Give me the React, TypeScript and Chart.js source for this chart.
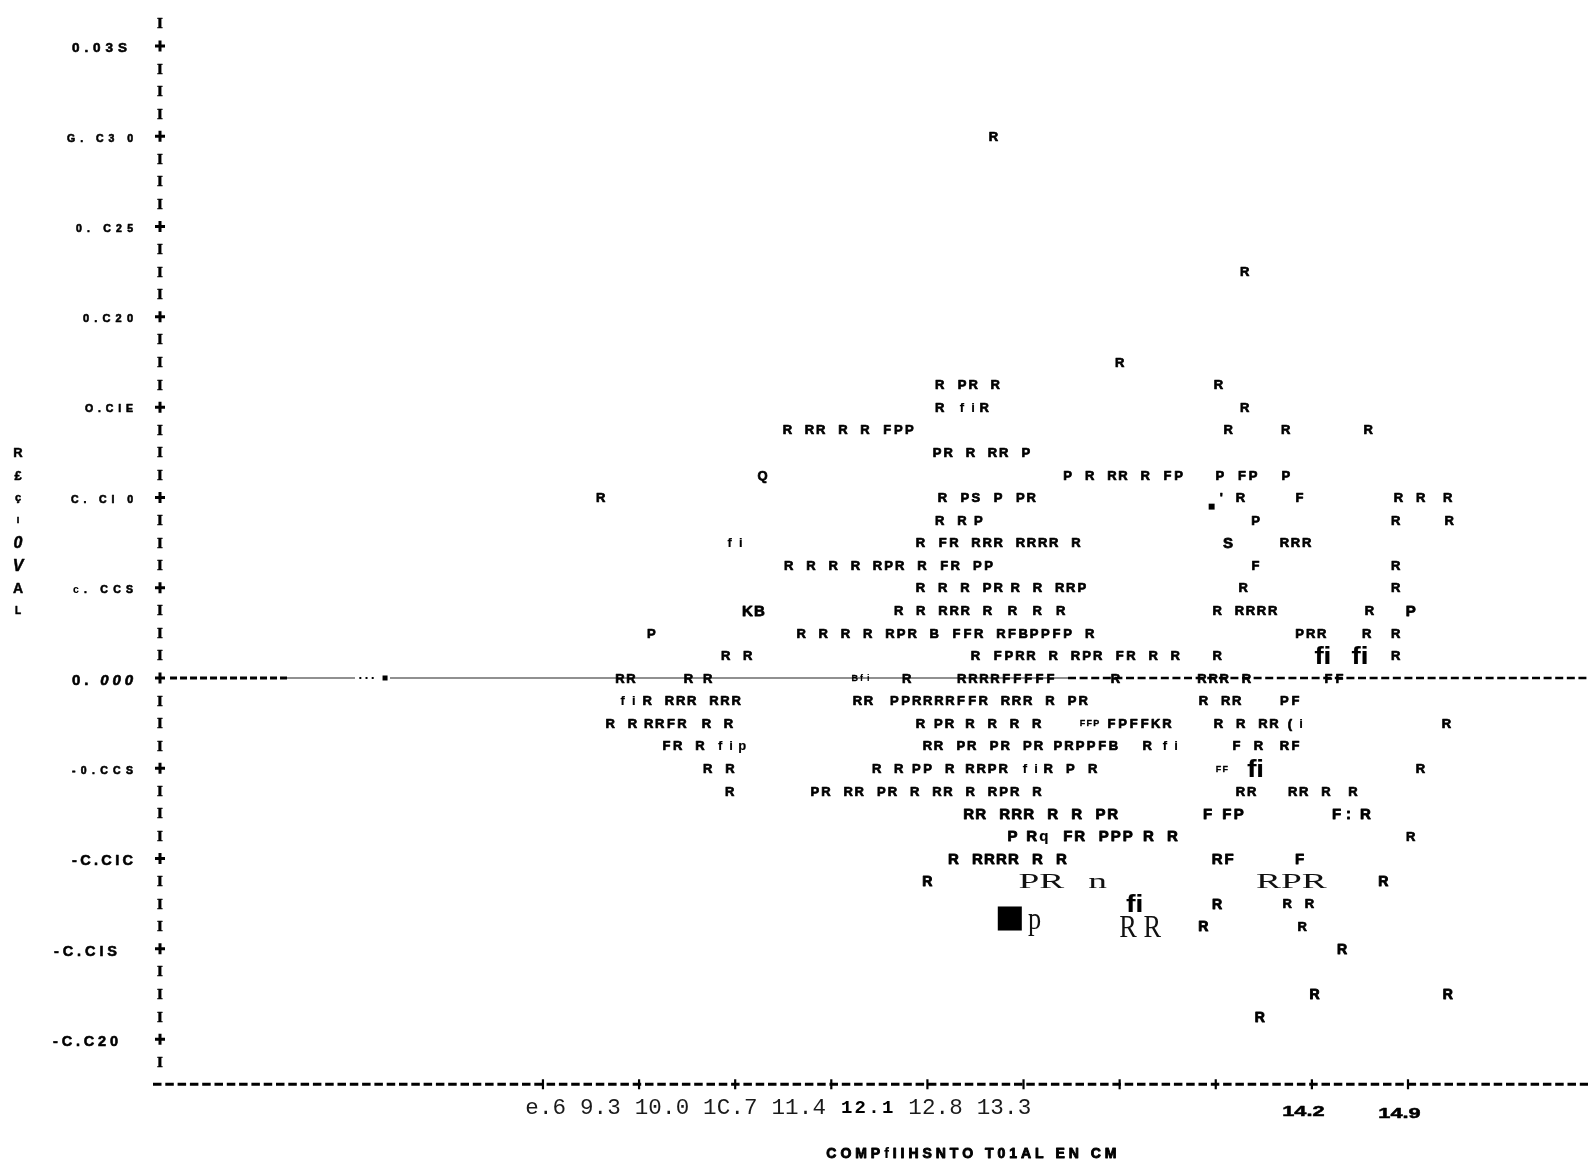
import { useEffect, useRef } from 'react';
import { Chart, registerables } from 'chart.js';

Chart.register(...registerables);

// ---- axes -------------------------------------------------------------
const X_MIN = 5.811;
const X_MAX = 16.211;
const Y_MIN = -0.027137;
const Y_MAX = 0.037547;

const xTickValues = [8.6, 9.3, 10.0, 10.7, 11.4, 12.1, 12.8, 13.5, 14.2, 14.9];
const xTickLabels = ['e.6', '9.3', '10.0', '1C.7', '11.4', '12.1', '12.8', '13.3', '14.2', '14.9'];
const xTitle = 'COMPfIIHSNTO T01AL EN CM';

const yTickValues = [0.035, 0.03, 0.025, 0.02, 0.015, 0.01, 0.005, 0, -0.005, -0.01, -0.015, -0.02];
const yTickLabels = ['0.03S', 'G. C3 0', '0. C25', '0.C20', 'O.CIE', 'C. CI 0', 'c. CCS', '0. 000', '-0.CCS', '-C.CIC', '-C.CIS', '-C.C20'];
const yMinorStep = 0.00125;
const yTitleLetters = ['R', '£', 'ç', 'I', '0', 'V', 'A', 'L'];
const yTitleLevels = [0.0125, 0.01125, 0.01, 0.00875, 0.0075, 0.00625, 0.005, 0.00375];

// ---- printed residual marks: [length, residual, characters] ----------
type Mark = [number, number, string];

const printedMarks: Mark[] = [
  [11.88, 0.03, 'R'],
  [13.71, 0.0225, 'R'],
  [12.8, 0.0175, 'R'],
  [11.49, 0.01625, 'R PR R'], [13.52, 0.01625, 'R'],
  [11.49, 0.015, 'R fiR'], [13.71, 0.015, 'R'],
  [10.38, 0.01375, 'R RR R R FPP'], [13.59, 0.01375, 'R'], [14.01, 0.01375, 'R'], [14.61, 0.01375, 'R'],
  [11.47, 0.0125, 'PR R RR P'],
  [10.2, 0.01125, 'Q'], [12.42, 0.01125, 'P R RR R FP'], [13.53, 0.01125, 'P FP'], [14.01, 0.01125, 'P'],
  [9.02, 0.01, 'R'], [11.51, 0.01, 'R PS P PR'], [13.54, 0.01, "'"], [13.68, 0.01, 'R'], [14.11, 0.01, 'F'], [14.83, 0.01, 'R R'], [15.19, 0.01, 'R'],
  [11.49, 0.00875, 'R R'], [11.77, 0.00875, 'P'], [13.79, 0.00875, 'P'], [14.81, 0.00875, 'R'], [15.2, 0.00875, 'R'],
  [9.96, 0.0075, 'fi'], [11.35, 0.0075, 'R FR RRR RRRR R'], [14.0, 0.0075, 'RRR'],
  [10.39, 0.00625, 'R R R R RPR R FR PP'], [13.79, 0.00625, 'F'], [14.81, 0.00625, 'R'],
  [11.35, 0.005, 'R R R PR'], [12.04, 0.005, 'R R RRP'], [13.7, 0.005, 'R'], [14.81, 0.005, 'R'],
  [11.19, 0.00375, 'R R RRR R'], [12.02, 0.00375, 'R'], [12.2, 0.00375, 'R'], [12.37, 0.00375, 'R'], [13.51, 0.00375, 'R RRRR'], [14.62, 0.00375, 'R'],
  [9.39, 0.0025, 'P'], [10.48, 0.0025, 'R R R R RPR B FFR RFBPPFP R'], [14.11, 0.0025, 'PRR'], [14.6, 0.0025, 'R'], [14.81, 0.0025, 'R'],
  [9.93, 0.00125, 'R R'], [11.75, 0.00125, 'R FPRR R RPR FR R R'], [13.51, 0.00125, 'R'], [14.81, 0.00125, 'R'],
  [9.16, 0, 'RR'], [9.66, 0, 'R'], [9.8, 0, 'R'], [11.25, 0, 'R'], [11.65, 0, 'RRRRFFFFF'], [12.77, 0, 'R'], [13.4, 0, 'RRR R'], [14.32, 0, 'FF'],
  [9.18, -0.00125, 'fi'], [9.36, -0.00125, 'R RRR RRR'], [10.89, -0.00125, 'RR'], [11.16, -0.00125, 'PPRRRRFFR RRR R PR'], [13.41, -0.00125, 'R RR'], [14.0, -0.00125, 'PF'],
  [9.09, -0.0025, 'R R'], [9.37, -0.0025, 'RRFR'], [9.79, -0.0025, 'R R'], [11.35, -0.0025, 'R'], [11.48, -0.0025, 'PR'], [11.71, -0.0025, 'R R R R'], [12.74, -0.0025, 'FPFFKR'], [13.52, -0.0025, 'R R RR'], [14.04, -0.0025, '(i'], [15.18, -0.0025, 'R'],
  [9.5, -0.00375, 'FR R'], [9.89, -0.00375, 'fip'], [11.4, -0.00375, 'RR PR PR PR'], [12.35, -0.00375, 'PRPPFB'], [13.0, -0.00375, 'R'], [13.13, -0.00375, 'fi'], [13.65, -0.00375, 'F R'], [14.0, -0.00375, 'RF'],
  [9.8, -0.005, 'R R'], [11.03, -0.005, 'R R'], [11.32, -0.005, 'PP R'], [11.71, -0.005, 'RRPR'], [12.11, -0.005, 'fi'], [12.28, -0.005, 'R P R'], [14.99, -0.005, 'R'],
  [9.96, -0.00625, 'R'], [10.58, -0.00625, 'PR RR PR R RR R RPR R'], [13.68, -0.00625, 'RR'], [14.06, -0.00625, 'RR R'], [14.5, -0.00625, 'R'],
  [14.92, -0.00875, 'R'],
  [14.02, -0.0125, 'R R'],
  [14.13, -0.01375, 'R'],
];

const heavyMarks: Mark[] = [
  [10.09, 0.00375, 'KB'], [14.92, 0.00375, 'P'],
  [13.59, 0.0075, 'S'],
  [11.7, -0.0075, 'RR RRR R R PR'], [13.44, -0.0075, 'F'], [13.58, -0.0075, 'FP'], [14.38, -0.0075, 'F:'], [14.59, -0.0075, 'R'],
  [12.02, -0.00875, 'P'], [12.16, -0.00875, 'Rq FR PPP'], [13.01, -0.00875, 'R R'],
  [11.59, -0.01, 'R RRRR R R'], [13.51, -0.01, 'RF'], [14.11, -0.01, 'F'],
];

const smallMarks: Mark[] = [
  [10.87, 0, 'Bfi'],
  [12.53, -0.0025, 'FFP'],
  [13.52, -0.005, 'FF'],
];

const ligatureMarks: Mark[] = [
  [14.28, 0.00125, 'fi'], [14.55, 0.00125, 'fi'],
  [13.79, -0.005, 'fi'],
  [12.91, -0.0125, 'fi'],
];

const smudgedMarks: Mark[] = [
  [11.4, -0.01125, 'R'], [14.72, -0.01125, 'R'],
  [13.51, -0.0125, 'R'],
  [13.41, -0.01375, 'R'],
  [14.42, -0.015, 'R'],
  [14.22, -0.0175, 'R'], [15.19, -0.0175, 'R'],
  [13.82, -0.01875, 'R'],
];

const wideSerifMarks: Mark[] = [
  [12.23, -0.01125, 'PR'], [12.64, -0.01125, 'n'], [14.05, -0.01125, 'RPR'],
];

const tallSerifMarks: Mark[] = [
  [12.95, -0.01375, 'R R'], [12.18, -0.01332, 'p'],
];

const blockMarks = [[12.0, -0.01332]];
const dotMarks = [[13.47, 0.00949]];

// ---- glyph styles per dataset ----------------------------------------
type GlyphStyle = {
  font: string; size: number; drop: number; pitch?: number; stretch?: number;
  blur?: number; color?: string; weight?: number;
};

const SANS = '"Liberation Sans", Arial, sans-serif';

const GLYPHS: Record<string, GlyphStyle> = {
  printed: { font: `bold 13px ${SANS}`, size: 13, drop: 0.36, pitch: 11.1, weight: 0.7 },
  heavy: { font: `bold 15px ${SANS}`, size: 15, drop: 0.36, pitch: 12, weight: 0.8 },
  small: { font: `bold 9px ${SANS}`, size: 9, drop: 0.36, pitch: 6.8, weight: 0.3 },
  ligature: { font: `bold 24px ${SANS}`, size: 24, drop: 0.36, stretch: 1.15, weight: 0.8 },
  smudged: { font: `bold 14px ${SANS}`, size: 14, drop: 0.36, pitch: 11.1, blur: 0.6, weight: 0.9 },
  wideSerif: { font: '22px "Liberation Serif", serif', size: 22, drop: 0.33, stretch: 1.7, color: '#111' },
  tallSerif: { font: '31px "Liberation Serif", serif', size: 31, drop: 0.33, stretch: 0.85, color: '#111' },
};

const markSets: [string, Mark[]][] = [
  ['printed', printedMarks],
  ['heavy', heavyMarks],
  ['small', smallMarks],
  ['ligature', ligatureMarks],
  ['smudged', smudgedMarks],
  ['wideSerif', wideSerifMarks],
  ['tallSerif', tallSerifMarks],
];

// fill, then stroke lightly to get the inked look of an impact printer;
// lower-case strokes stay thin so the dot of an i keeps apart
function inkText(ctx: CanvasRenderingContext2D, ch: string, x: number, y: number, weight = 0) {
  ctx.fillText(ch, x, y);
  const w = /[a-z]/.test(ch) ? weight * 0.25 : weight;
  if (w > 0) {
    ctx.lineWidth = w;
    ctx.lineJoin = 'round';
    ctx.strokeText(ch, x, y);
  }
}

function drawGlyphs(ctx: CanvasRenderingContext2D, text: string, px: number, py: number, st: GlyphStyle) {
  ctx.save();
  ctx.fillStyle = st.color ?? '#000';
  ctx.strokeStyle = st.color ?? '#000';
  ctx.setLineDash([]);
  ctx.font = st.font;
  ctx.textBaseline = 'alphabetic';
  ctx.textAlign = 'center';
  if (st.blur) ctx.filter = `blur(${st.blur}px)`;
  const base = py + st.drop * st.size;
  if (st.pitch) {
    [...text].forEach((ch, i) => {
      if (ch !== ' ') inkText(ctx, ch, px + i * st.pitch!, base, st.weight);
    });
  } else {
    ctx.translate(px, base);
    ctx.scale(st.stretch ?? 1, 1);
    inkText(ctx, text, 0, 0, st.weight);
  }
  ctx.restore();
}

// spreads characters evenly between two edges, like a chain printer line
function drawSpread(
  ctx: CanvasRenderingContext2D, text: string, left: number, right: number, baseline: number,
  fontAt: (i: number) => string, weight = 0,
) {
  const chars = [...text];
  const widths = chars.map((ch, i) => {
    ctx.font = fontAt(i);
    return ctx.measureText(ch).width;
  });
  const total = widths.reduce((a, b) => a + b, 0);
  const gap = chars.length > 1 ? (right - left - total) / (chars.length - 1) : 0;
  let x = left;
  ctx.textAlign = 'left';
  chars.forEach((ch, i) => {
    ctx.font = fontAt(i);
    inkText(ctx, ch, x, baseline, weight);
    x += widths[i] + gap;
  });
}

// label boxes for the residual axis: left edge, right edge, font size
const Y_LABEL_BOXES: [number, number, number][] = [
  [72, 127, 13.5], [67, 133, 10.5], [76, 133, 10.5], [83, 133, 11], [85, 133, 10.5], [71, 133, 10.5],
  [73, 133, 10.5], [72, 133, 15], [72, 133, 10.5], [72, 133, 14.5], [54, 117, 14.5], [53, 118, 14.5],
];
const Y_TITLE_SIZES = [13, 13, 11, 9, 16, 16, 14, 10];

const printerPlot = {
  id: 'printerPlot',
  beforeDraw(chart: any) {
    const { ctx, width, height } = chart;
    ctx.save();
    ctx.fillStyle = '#fff';
    ctx.fillRect(0, 0, width, height);
    ctx.restore();
  },
  beforeDatasetsDraw(chart: any) {
    const ctx: CanvasRenderingContext2D = chart.ctx;
    const xs = chart.scales.x;
    const ys = chart.scales.y;
    const axisX = xs.left;
    const y0 = ys.getPixelForValue(0);
    const yBottom = ys.getPixelForValue(-0.0225);
    const xp = (v: number) => xs.getPixelForValue(v);

    ctx.save();
    ctx.fillStyle = '#000';
    ctx.strokeStyle = '#000';
    ctx.textBaseline = 'alphabetic';

    // residual axis: I between, + at every labelled level
    ctx.textAlign = 'center';
    ctx.font = 'bold 15px "Liberation Serif", serif';
    for (let n = -17; n <= 29; n++) {
      const py = ys.getPixelForValue(n * yMinorStep);
      if (n % 4 === 0) {
        ctx.lineWidth = 3;
        ctx.beginPath();
        ctx.moveTo(axisX - 5, py);
        ctx.lineTo(axisX + 5, py);
        ctx.moveTo(axisX, py - 5.5);
        ctx.lineTo(axisX, py + 5.5);
        ctx.stroke();
      } else {
        inkText(ctx, 'I', axisX, py + 5, 0.6);
      }
    }

    // zero reference line
    ctx.lineCap = 'butt';
    ctx.lineWidth = 3;
    ctx.setLineDash([7, 3]);
    ctx.beginPath();
    ctx.moveTo(xp(5.884), y0);
    ctx.lineTo(xp(6.736), y0);
    ctx.stroke();
    ctx.setLineDash([]);
    ctx.lineWidth = 1.2;
    ctx.strokeStyle = '#222';
    ctx.beginPath();
    ctx.moveTo(xp(6.736), y0);
    ctx.lineTo(xp(7.231), y0);
    ctx.moveTo(xp(7.486), y0);
    ctx.lineTo(xp(12.424), y0);
    ctx.stroke();
    [7.27, 7.315, 7.36].forEach((v) => ctx.fillRect(xp(v) - 1, y0 - 1, 2, 2));
    ctx.fillRect(xp(7.45) - 2.5, y0 - 2.5, 5, 5);
    ctx.strokeStyle = '#000';
    ctx.lineWidth = 2.6;
    ctx.setLineDash([8, 3.6]);
    ctx.beginPath();
    ctx.moveTo(xp(12.424), y0);
    ctx.lineTo(xs.right, y0);
    ctx.stroke();

    // length axis
    ctx.lineWidth = 2.8;
    ctx.setLineDash([8.5, 3.8]);
    ctx.beginPath();
    ctx.moveTo(axisX - 7, yBottom);
    ctx.lineTo(xs.right, yBottom);
    ctx.stroke();
    ctx.setLineDash([]);
    ctx.lineWidth = 2.2;
    xTickValues.forEach((v) => {
      const px = xp(v);
      ctx.beginPath();
      ctx.moveTo(px, yBottom - 5);
      ctx.lineTo(px, yBottom + 5);
      ctx.stroke();
    });

    // residual tick labels
    yTickValues.forEach((v, i) => {
      const [left, right, size] = Y_LABEL_BOXES[i];
      const base = ys.getPixelForValue(v) + 1.5 + 0.36 * size;
      const italicFrom = yTickLabels[i] === '0. 000' ? 3 : 99;
      drawSpread(ctx, yTickLabels[i], left, right, base, (c) =>
        `${c >= italicFrom ? 'italic ' : ''}bold ${size}px ${SANS}`, 0.6);
    });

    // residual axis title, one letter per printed line
    ctx.textAlign = 'center';
    yTitleLetters.forEach((ch, i) => {
      const size = Y_TITLE_SIZES[i];
      const italic = ch === '0' || ch === 'V';
      ctx.font = `${italic ? 'italic ' : ''}bold ${size}px ${SANS}`;
      inkText(ctx, ch, 18, ys.getPixelForValue(yTitleLevels[i]) + 0.36 * size, 0.5);
    });

    // length tick labels: the first eight run on as one monospaced line
    const labelBase = yBottom + 29.5;
    const runText = xTickLabels.slice(0, 8).join(' ');
    const boldStart = runText.indexOf(xTickLabels[5]);
    const boldEnd = boldStart + xTickLabels[5].length;
    const pitch = 13.68;
    const firstCenter = xp(xTickValues[0]) - 11;
    ctx.textAlign = 'center';
    [...runText].forEach((ch, i) => {
      if (ch === ' ') return;
      const bold = i >= boldStart && i < boldEnd;
      ctx.font = bold ? 'bold 19px "Liberation Mono", "Courier New", monospace' : '22.5px "Liberation Mono", "Courier New", monospace';
      ctx.fillStyle = bold ? '#000' : '#1a1a1a';
      ctx.fillText(ch, firstCenter + i * pitch, labelBase - (bold ? 1 : 0));
    });
    ctx.fillStyle = '#000';
    ctx.strokeStyle = '#000';
    ctx.font = `bold 15px ${SANS}`;
    for (let i = 8; i < xTickLabels.length; i++) {
      ctx.save();
      ctx.translate(xp(xTickValues[i]) - 8.5, labelBase + 2 + (i - 8) * 2);
      ctx.scale(1.45, 1);
      inkText(ctx, xTickLabels[i], 0, 0, 0.5);
      ctx.restore();
    }

    // length axis title
    const titleCenter = xp(11.72);
    drawSpread(ctx, xTitle, titleCenter - 145, titleCenter + 145, yBottom + 73.5, () => `bold 14px ${SANS}`, 0.9);

    ctx.restore();
  },
  afterDatasetsDraw(chart: any) {
    const ctx: CanvasRenderingContext2D = chart.ctx;
    chart.data.datasets.forEach((ds: any, di: number) => {
      const st = GLYPHS[ds.label];
      if (!st) return;
      const meta = chart.getDatasetMeta(di);
      meta.data.forEach((el: any, i: number) => drawGlyphs(ctx, ds.data[i].t, el.x, el.y, st));
    });
  },
};

function buildConfig(): any {
  const toPoint = (m: Mark) => ({ x: m[0], y: m[1], t: m[2] });
  return {
    type: 'scatter',
    data: {
      datasets: [
        ...markSets.map(([label, marks]) => ({
          label,
          data: marks.map(toPoint),
          pointRadius: 0,
          pointHoverRadius: 0,
          clip: false,
        })),
        {
          label: 'block',
          data: blockMarks.map(([x, y]) => ({ x, y })),
          pointStyle: 'rect',
          pointRadius: 17,
          backgroundColor: '#000',
          borderColor: '#000',
          borderWidth: 0,
          clip: false,
        },
        {
          label: 'dot',
          data: dotMarks.map(([x, y]) => ({ x, y })),
          pointStyle: 'rect',
          pointRadius: 4.2,
          backgroundColor: '#000',
          borderColor: '#000',
          borderWidth: 0,
          clip: false,
        },
      ],
    },
    options: {
      responsive: false,
      animation: false,
      devicePixelRatio: 1,
      events: [],
      layout: { autoPadding: false, padding: { left: 160, right: 0, top: 0, bottom: 0 } },
      scales: {
        x: { type: 'linear', min: X_MIN, max: X_MAX, display: false },
        y: { type: 'linear', min: Y_MIN, max: Y_MAX, display: false },
      },
      plugins: { legend: { display: false }, tooltip: { enabled: false } },
    },
    plugins: [printerPlot],
  };
}

export default function App() {
  const ref = useRef<HTMLCanvasElement>(null);
  useEffect(() => {
    if (!ref.current) return;
    const chart = new Chart(ref.current, buildConfig());
    return () => chart.destroy();
  }, []);
  return (
    <canvas
      ref={ref}
      width={1588}
      height={1168}
      style={{ position: 'absolute', left: 0, top: 0, display: 'block' }}
    />
  );
}
